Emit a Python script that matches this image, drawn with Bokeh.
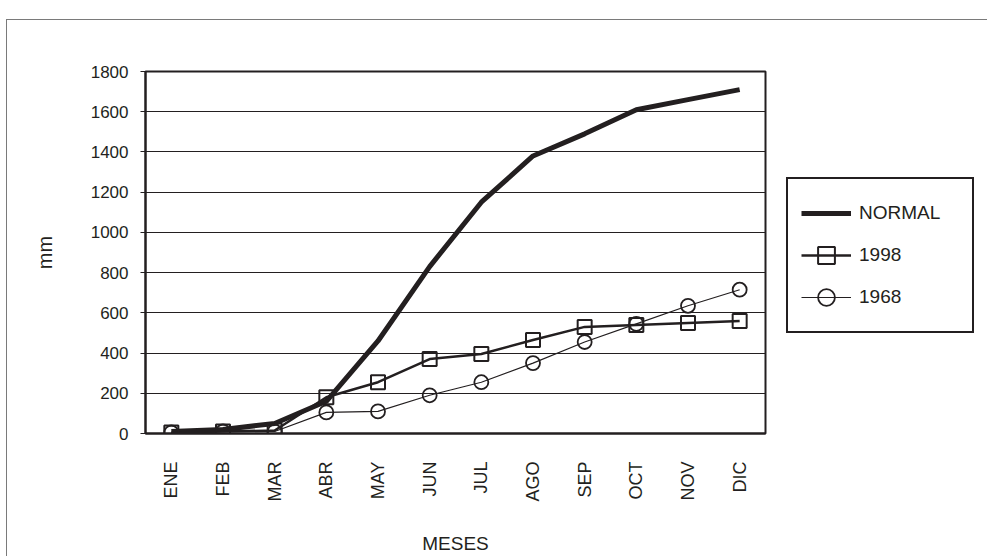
from bokeh.plotting import figure
from bokeh.models import Range1d, FixedTicker, Legend, LegendItem
from bokeh.embed import file_html
from bokeh.resources import INLINE

months = ["ENE", "FEB", "MAR", "ABR", "MAY", "JUN", "JUL", "AGO", "SEP", "OCT", "NOV", "DIC"]
normal = [10, 20, 50, 160, 460, 830, 1150, 1380, 1490, 1610, 1660, 1710]
y1998 = [5, 10, 15, 180, 255, 370, 395, 465, 530, 540, 550, 560]
y1968 = [5, 10, 10, 105, 110, 190, 255, 350, 455, 545, 635, 715]
y_ticks = [0, 200, 400, 600, 800, 1000, 1200, 1400, 1600, 1800]

INK = "#231f20"
FONT = "Liberation Sans"

p = figure(x_range=months, y_range=Range1d(0, 1800),
           frame_width=620, frame_height=362,
           min_border_left=138, min_border_top=51, min_border_right=0, min_border_bottom=123,
           output_backend="svg", toolbar_location=None, background_fill_color="white",
           border_fill_color="white")
p.margin = (19, 0, 0, 6)
p.styles = {"border-left": "1px solid #7a7a7a", "border-top": "1px solid #7a7a7a"}

p.outline_line_color = INK
p.outline_line_width = 2
p.xgrid.grid_line_color = None
p.ygrid.grid_line_color = INK
p.ygrid.grid_line_width = 1
p.yaxis.ticker = FixedTicker(ticks=y_ticks)

for ax in (p.xaxis[0], p.yaxis[0]):
    ax.axis_line_color = INK
    ax.axis_line_width = 2
    ax.major_label_text_font = FONT
    ax.major_label_text_color = INK
    ax.axis_label_text_font = FONT
    ax.axis_label_text_color = INK
    ax.axis_label_text_font_style = "normal"
    ax.minor_tick_line_color = None

p.yaxis.major_tick_out = 5
p.yaxis.major_tick_in = 0
p.yaxis.major_tick_line_color = INK
p.yaxis.major_tick_line_width = 1
p.yaxis.major_label_standoff = 12
p.yaxis.major_label_text_font_size = "17px"
p.yaxis.axis_label = "mm"
p.yaxis.axis_label_text_font_size = "20px"
p.yaxis.axis_label_standoff = 32

p.xaxis.major_tick_out = 0
p.xaxis.major_tick_in = 0
p.xaxis.major_tick_line_color = None
p.xaxis.major_label_orientation = 1.5708
p.xaxis.major_label_standoff = 28
p.xaxis.major_label_text_font_size = "18px"
p.xaxis.axis_label = "MESES"
p.xaxis.axis_label_text_font_size = "19px"
p.xaxis.axis_label_standoff = 28

r_normal = p.line(months, normal, line_color=INK, line_width=5)
r_1998 = p.line(months, y1998, line_color=INK, line_width=2.5)
s_1998 = p.scatter(months, y1998, marker="square", size=14, fill_color=None,
                   line_color=INK, line_width=2)
r_1968 = p.line(months, y1968, line_color=INK, line_width=1.2)
s_1968 = p.scatter(months, y1968, marker="circle", size=14, fill_color=None,
                   line_color=INK, line_width=1.8)

legend = Legend(items=[
    LegendItem(label="NORMAL", renderers=[r_normal]),
    LegendItem(label="1998", renderers=[r_1998, s_1998]),
    LegendItem(label="1968", renderers=[r_1968, s_1968]),
], location=(21, 100))
legend.border_line_color = INK
legend.border_line_alpha = 1
legend.border_line_width = 2
legend.background_fill_color = "white"
legend.background_fill_alpha = 1
legend.padding = 13
legend.spacing = 0
legend.margin = 0
legend.glyph_width = 50
legend.glyph_height = 42
legend.label_height = 42
legend.label_width = 100
legend.label_standoff = 8
legend.label_text_font = FONT
legend.label_text_font_size = "19px"
legend.label_text_color = INK
p.add_layout(legend, "right")
p.width = 981

open("out.html", "w").write(file_html(p, INLINE))
